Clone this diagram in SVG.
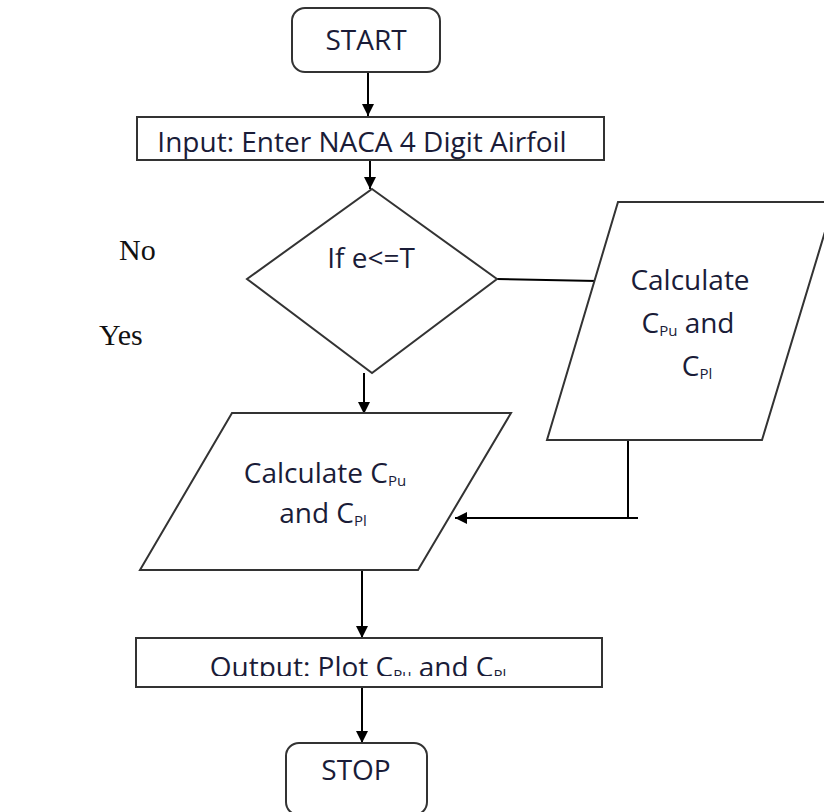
<svg xmlns="http://www.w3.org/2000/svg" width="824" height="812" viewBox="0 0 824 812">
<defs>
<marker id="arr" viewBox="0 0 10 10" refX="10" refY="5" markerWidth="12" markerHeight="12" markerUnits="userSpaceOnUse" orient="auto">
<path d="M0,0 L10,5 L0,10 Z" fill="#000"/>
</marker>
<clipPath id="outclip"><rect x="136" y="639" width="466" height="37"/></clipPath>
</defs>
<style>
.shape{fill:#fff;stroke:#333;stroke-width:2}
.t{font-family:"Open Sans","Liberation Sans",sans-serif;font-size:28px;fill:#1a1c38;text-anchor:middle}
.sub{font-size:15px}
.serif{font-family:"Liberation Serif",serif;font-size:30px;fill:#111}
.conn{stroke:#000;stroke-width:2;fill:none}
</style>
<rect width="824" height="812" fill="#fff"/>
<g id="connectors">
<line class="conn" x1="368" y1="72" x2="368" y2="116" marker-end="url(#arr)"/>
<line class="conn" x1="370" y1="161" x2="370" y2="189" marker-end="url(#arr)"/>
<line class="conn" x1="364" y1="373" x2="364" y2="414" marker-end="url(#arr)"/>
<line class="conn" x1="362" y1="570" x2="362" y2="638" marker-end="url(#arr)"/>
<line class="conn" x1="362" y1="687" x2="362" y2="743" marker-end="url(#arr)"/>
<line class="conn" x1="497" y1="279" x2="597" y2="281"/>
<line class="conn" x1="628" y1="440" x2="628" y2="518"/>
<line class="conn" x1="638" y1="518" x2="455" y2="518" marker-end="url(#arr)"/>
</g>
<g id="start">
<rect class="shape" x="292" y="8" width="148" height="64" rx="13"/>
<text class="t" x="366" y="50">START</text>
</g>
<g id="input">
<rect class="shape" x="137" y="117" width="467" height="43"/>
<text class="t" x="362" y="152">Input: Enter NACA 4 Digit Airfoil</text>
</g>
<g id="decision">
<polygon class="shape" points="372,189 497,279 372,373 247,279"/>
<text class="t" x="371" y="268">If e&lt;=T</text>
</g>
<g id="calc-right">
<polygon class="shape" points="618,202 834,202 762,440 547,440"/>
<text class="t" x="690" y="290">Calculate</text>
<text class="t" x="688" y="333">C<tspan class="sub" dy="3">Pu</tspan><tspan dy="-3"> and</tspan></text>
<text class="t" x="697" y="376">C<tspan class="sub" dy="3">Pl</tspan></text>
</g>
<g id="calc-left">
<polygon class="shape" points="232,413 511,413 418,570 140,570"/>
<text class="t" x="325" y="483">Calculate C<tspan class="sub" dy="3">Pu</tspan></text>
<text class="t" x="323" y="523">and C<tspan class="sub" dy="3">Pl</tspan></text>
</g>
<g id="output">
<rect class="shape" x="136" y="638" width="466" height="49"/>
<text class="t" x="358" y="677" clip-path="url(#outclip)">Output: Plot C<tspan class="sub" dy="3">Pu</tspan><tspan dy="-3"> and C</tspan><tspan class="sub" dy="3">Pl</tspan></text>
</g>
<g id="stop">
<rect class="shape" x="286" y="743" width="141" height="72" rx="13"/>
<text class="t" x="356" y="780">STOP</text>
</g>
<g id="labels">
<text class="serif" x="119" y="260">No</text>
<text class="serif" x="99" y="345">Yes</text>
</g>
</svg>
